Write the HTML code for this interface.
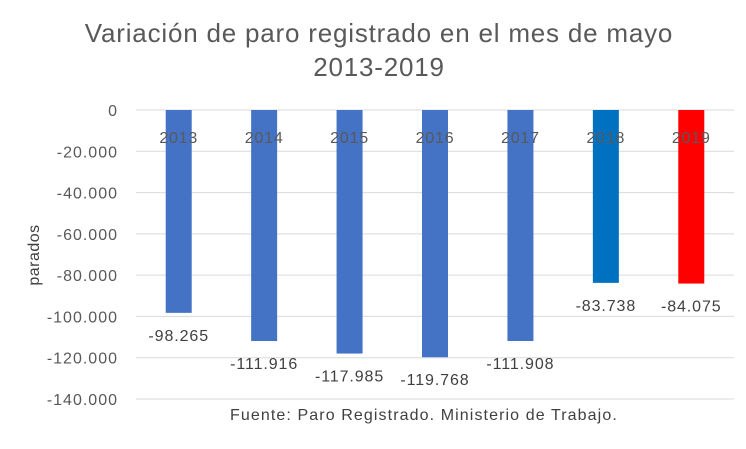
<!DOCTYPE html>
<html><head><meta charset="utf-8"><style>
body{margin:0;background:#fff}
svg{display:block;font-family:"Liberation Sans",sans-serif}
</style></head><body>
<svg width="746" height="449">
<text x="379" y="42" text-anchor="middle" font-size="26" letter-spacing="0.8" fill="#595959">Variación de paro registrado en el mes de mayo</text>
<text x="379" y="76" text-anchor="middle" font-size="26" letter-spacing="0.8" fill="#595959">2013-2019</text>
<text transform="translate(39,255) rotate(-90)" text-anchor="middle" font-size="16" letter-spacing="0.5" fill="#404040">parados</text>
<text x="230" y="420" font-size="16" letter-spacing="1.1" fill="#404040">Fuente: Paro Registrado. Ministerio de Trabajo.</text>
<g id="grid"></g><g id="bars"></g><g id="labels"></g>
</svg>
<script>
const categories=["2013","2014","2015","2016","2017","2018","2019"];
const values=[-98265,-111916,-117985,-119768,-111908,-83738,-84075];
const valueLabels=["-98.265","-111.916","-117.985","-119.768","-111.908","-83.738","-84.075"];
const colors=["#4472C4","#4472C4","#4472C4","#4472C4","#4472C4","#0070C0","#FF0000"];
const ticks=[0,-20000,-40000,-60000,-80000,-100000,-120000,-140000];
const tickLabels=["0","-20.000","-40.000","-60.000","-80.000","-100.000","-120.000","-140.000"];
const NS="http://www.w3.org/2000/svg";
const x0=136,x1=734,yTop=110,yBot=399;
const y=v=>yTop+(0-v)/140000*(yBot-yTop);
const bw=(x1-x0)/categories.length;
const xc=i=>x0+bw*(i+0.5);
function mk(t,a,p,txt){const e=document.createElementNS(NS,t);for(const k in a)e.setAttribute(k,a[k]);if(txt!=null)e.textContent=txt;p.appendChild(e);return e;}
const G=document.getElementById('grid'),B=document.getElementById('bars'),L=document.getElementById('labels');
ticks.forEach((t,i)=>{
 const l=mk('line',{x1:x0,x2:x1,y1:y(t),y2:y(t),stroke:'#D9D9D9','stroke-width':1},G);
 
 
 const tx=mk('text',{x:118,y:y(t)+6,'text-anchor':'end','font-size':16,'letter-spacing':1,fill:'#595959'},G,tickLabels[i]);
 
 
});
values.forEach((v,i)=>{
 const r=mk('rect',{x:xc(i)-13,y:y(0),width:26,height:y(v)-y(0),fill:colors[i]},B);
 
 
 const c=mk('text',{x:xc(i),y:143,'text-anchor':'middle','font-size':16,'letter-spacing':0.8,fill:'#595959'},L,categories[i]);
 
 
 const vl=mk('text',{x:xc(i),y:y(v)+28,'text-anchor':'middle','font-size':16,'letter-spacing':0.9,fill:'#404040'},L,valueLabels[i]);
 
 
});
</script>
</body></html>
